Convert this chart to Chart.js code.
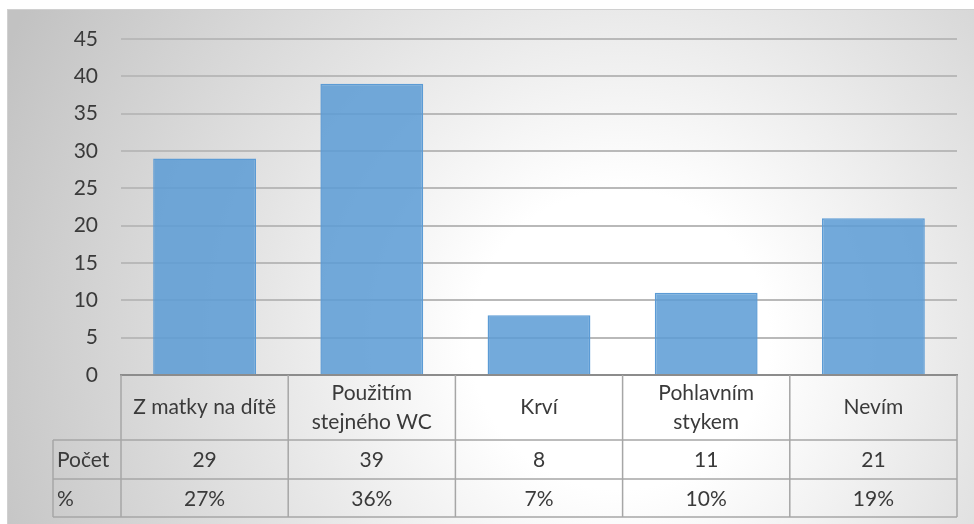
<!DOCTYPE html>
<html>
<head>
<meta charset="utf-8">
<script src="https://cdn.jsdelivr.net/npm/chart.js@4"></script>
<style>
  html, body { margin: 0; padding: 0; background: #ffffff; }
  #wrap { width: 974px; height: 524px; }
</style>
</head>
<body>
<div id="wrap"><canvas id="grafPrenos" width="974" height="524"></canvas></div>
<script>
// data
const kategorie = [['Z matky na dítě'], ['Použitím', 'stejného WC'], ['Krví'], ['Pohlavním', 'stykem'], ['Nevím']];
const pocet = [29, 39, 8, 11, 21];
const procenta = ['27%', '36%', '7%', '10%', '19%'];
const radkyTabulky = ['Počet', '%'];
const yTicks = [0, 5, 10, 15, 20, 25, 30, 35, 40, 45];

const FONT = 'Lato, "Open Sans", sans-serif';
const TEXT = '#3a3a3a';
const LINKA = '#a6a6a6';

// pozadi - radialni prechod jako v Excelu
const pozadi = {
    id: 'pozadi',
    beforeDraw(chart) {
        const ctx = chart.ctx;
        ctx.save();
        ctx.fillStyle = '#ffffff';
        ctx.fillRect(0, 0, chart.width, chart.height);
        const g = ctx.createRadialGradient(620, 340, 0, 620, 340, 680);
        g.addColorStop(0, '#ffffff');
        g.addColorStop(0.22, '#ffffff');
        g.addColorStop(0.55, '#e4e4e4');
        g.addColorStop(1, '#c2c2c2');
        ctx.fillStyle = g;
        ctx.fillRect(7, 9, chart.width - 7, chart.height - 9);
        ctx.strokeStyle = '#d0d0d0';
        ctx.lineWidth = 1;
        ctx.strokeRect(7.5, 9.5, chart.width - 7, chart.height - 9);
        ctx.restore();
    }
};

// datova tabulka pod grafem
const tabulka = {
    id: 'tabulka',
    afterDraw(chart) {
        const ctx = chart.ctx;
        const x = chart.scales.x;
        const area = chart.chartArea;
        const n = kategorie.length;
        const sirka = (x.right - x.left) / n;
        const yHlava = area.bottom;
        const yRadek1 = yHlava + 65;
        const yRadek2 = yRadek1 + 39;
        const yKonec = yRadek2 + 38;
        const xStitky = 53;

        ctx.save();
        ctx.strokeStyle = LINKA;
        ctx.lineWidth = 1.5;
        ctx.beginPath();
        // vodorovne
        ctx.moveTo(xStitky, yRadek1); ctx.lineTo(x.right, yRadek1);
        ctx.moveTo(xStitky, yRadek2); ctx.lineTo(x.right, yRadek2);
        ctx.moveTo(xStitky, yKonec); ctx.lineTo(x.right, yKonec);
        // svisle
        ctx.moveTo(xStitky, yRadek1); ctx.lineTo(xStitky, yKonec);
        for (let i = 0; i <= n; i++) {
            const xx = x.left + i * sirka;
            ctx.moveTo(xx, yHlava); ctx.lineTo(xx, yKonec);
        }
        ctx.stroke();

        ctx.fillStyle = TEXT;
        ctx.font = '21px ' + FONT;
        ctx.textBaseline = 'middle';
        ctx.textAlign = 'center';
        kategorie.forEach((radky, i) => {
            const cx = x.getPixelForValue(i);
            const stred = (yHlava + yRadek1) / 2;
            const krok = 29;
            radky.forEach((t, j) => {
                ctx.fillText(t, cx, stred + (j - (radky.length - 1) / 2) * krok);
            });
            ctx.fillText(String(pocet[i]), cx, (yRadek1 + yRadek2) / 2 + 1);
            ctx.fillText(procenta[i], cx, (yRadek2 + yKonec) / 2 + 1);
        });
        ctx.textAlign = 'left';
        ctx.fillText(radkyTabulky[0], xStitky + 4, (yRadek1 + yRadek2) / 2 + 1);
        ctx.fillText(radkyTabulky[1], xStitky + 4, (yRadek2 + yKonec) / 2 + 1);
        ctx.restore();
    }
};

new Chart(document.getElementById('grafPrenos'), {
    type: 'bar',
    data: {
        labels: kategorie.map(k => k.join(' ')),
        datasets: [{
            label: 'Počet',
            data: pocet,
            backgroundColor: 'rgba(91, 155, 213, 0.85)',
            borderColor: '#5b9bd5',
            borderWidth: 1.5,
            barPercentage: 0.615,
            categoryPercentage: 1
        }]
    },
    options: {
        responsive: false,
        animation: false,
        devicePixelRatio: 1,
        layout: { padding: { left: 0, top: 39, right: 17, bottom: 0 } },
        plugins: {
            legend: { display: false },
            tooltip: { enabled: false }
        },
        scales: {
            x: {
                grid: { display: false },
                border: { display: true, color: '#8c8c8c', width: 2 },
                ticks: { display: false },
                afterFit: (s) => { s.height = 149; }
            },
            y: {
                min: 0,
                max: 45,
                afterBuildTicks: (s) => { s.ticks = yTicks.map(v => ({ value: v })); },
                grid: { color: '#b9b9b9', lineWidth: 2, drawTicks: false },
                border: { display: false },
                ticks: {
                    color: TEXT,
                    font: { family: FONT, size: 21 },
                    padding: 23
                },
                afterFit: (s) => { s.width = 121; }
            }
        }
    },
    plugins: [pozadi, tabulka]
});
</script>
</body>
</html>
